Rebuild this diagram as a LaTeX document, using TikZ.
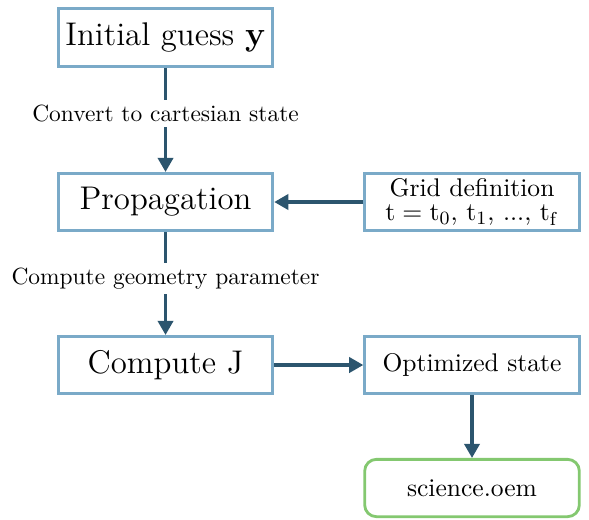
\documentclass[tikz,border=0pt]{standalone}
\usepackage{amsmath,amssymb}
\usepackage{xcolor}
\usetikzlibrary{arrows.meta, positioning}
\definecolor{boxblue}{RGB}{122, 170, 200}
\definecolor{boxgreen}{RGB}{132, 200, 112}
\definecolor{arrdark}{RGB}{44, 85, 110}

\begin{document}
\begin{tikzpicture}[
    step box/.style={
        rectangle, minimum width=3.22cm, minimum height=0.86cm,
        draw=boxblue, fill=white, line width=1.2pt, align=center,
        inner sep=2pt, font=\fontsize{14}{17}\selectfont
    },
    small box/.style={step box, font=\fontsize{10.9}{12.5}\selectfont},
    out box/.style={small box, draw=boxgreen, rounded corners=5pt},
    arr/.style={-{Triangle[length=6pt, width=6.5pt]}, line width=1.3pt, color=arrdark},
    lbl/.style={fill=white, text=black, font=\normalsize, inner sep=2pt}
]
\useasboundingbox (0,0) rectangle (8.835,-7.785);

% Main column
\node[step box] (guess) at (2.483,-0.563) {Initial guess $\mathbf{y}$};
\node[step box] (prop) at (2.483,-3.03) {Propagation};
\node[step box] (costj) at (2.483,-5.475) {Compute J};

% Right column
\node[small box] (grid) at (7.08,-3.03) {Grid definition\\[-2pt]$\mathrm{t}=\mathrm{t}_0$, $\mathrm{t}_1$, ..., $\mathrm{t}_\mathrm{f}$};
\node[small box] (optst) at (7.08,-5.475) {Optimized state};
\node[out box] (oem) at (7.08,-7.32) {science.oem};

% Connectors
\draw[arr] (guess) -- node[lbl, pos=0.44] {Convert to cartesian state} (prop);
\draw[arr] (prop) -- node[lbl, pos=0.45] {Compute geometry parameter} (costj);
\draw[arr] (grid) -- (prop);
\draw[arr] (costj) -- (optst);
\draw[arr] (optst) -- (oem);

\end{tikzpicture}
\end{document}
